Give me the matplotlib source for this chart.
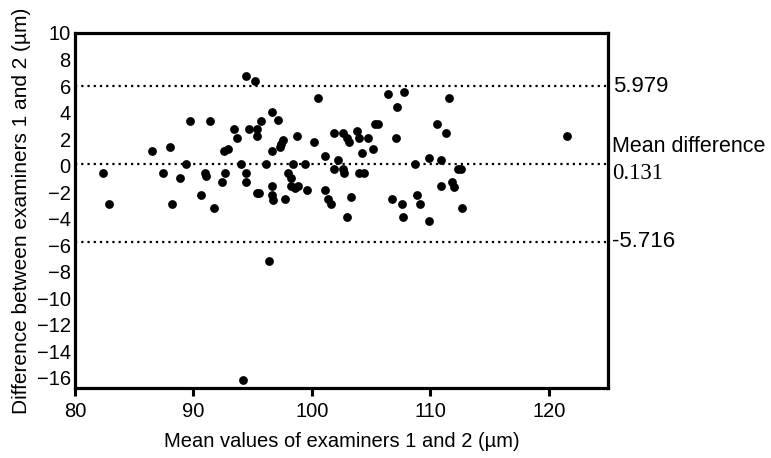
import matplotlib
matplotlib.use("Agg")
import matplotlib.pyplot as plt

plt.rcParams['font.family'] = ['Liberation Sans', 'DejaVu Sans']

# mean of the two examiners (x) and their difference (y)
mean_vals = [94.4, 95.2, 89.7, 91.4, 93.4, 94.7, 95.4, 95.7, 93.7, 95.4,
             86.5, 88.0, 92.6, 92.9, 89.4, 94.0, 82.4, 87.4, 88.9, 91.0,
             91.1, 92.7, 94.4, 92.4, 94.4, 90.6, 95.4, 82.9, 88.2, 91.7,
             100.5, 106.4, 107.8, 107.2, 96.6, 97.1, 98.7, 97.6, 97.4, 97.3,
             96.6, 100.2, 101.9, 102.6, 103.0, 103.1, 103.8, 104.0, 104.7, 105.3,
             105.6, 107.1, 105.2, 104.2, 101.1, 102.2, 96.1, 98.4, 99.4, 101.9,
             102.6, 102.7, 104.0, 104.4, 108.7, 98.0, 98.2, 98.2, 98.8, 98.6,
             99.6, 96.6, 95.5, 96.6, 96.7, 97.7, 101.1, 101.4, 101.6, 103.3,
             103.0, 106.8, 107.6, 107.7, 108.9, 109.1, 96.4, 111.6, 110.6, 111.3,
             121.5, 109.9, 110.9, 112.3, 112.6, 111.8, 112.0, 110.9, 109.9, 112.7,
             94.2]
diff_vals = [6.76, 6.38, 3.39, 3.39, 2.74, 2.74, 2.74, 3.39, 2.09, 2.24,
             1.11, 1.43, 1.11, 1.26, 0.11, 0.11, -0.57, -0.57, -0.90, -0.57,
             -0.75, -0.57, -0.57, -1.23, -1.23, -2.21, -2.03, -2.89, -2.89, -3.19,
             5.08, 5.40, 5.58, 4.42, 4.07, 3.42, 2.26, 1.94, 1.64, 1.43,
             1.11, 1.76, 2.44, 2.44, 2.11, 1.76, 2.61, 2.11, 2.11, 3.12,
             3.12, 2.09, 1.26, 0.93, 0.75, 0.43, 0.11, 0.11, 0.11, -0.25,
             -0.25, -0.57, -0.57, -0.57, 0.11, -0.57, -0.90, -1.53, -1.53, -1.70,
             -1.85, -1.53, -2.06, -2.21, -2.58, -2.53, -1.85, -2.53, -2.89, -2.38,
             -3.87, -2.53, -2.89, -3.87, -2.21, -2.89, -7.2, 5.08, 3.12, 2.44,
             2.26, 0.60, 0.43, -0.25, -0.25, -1.23, -1.58, -1.53, -4.19, -3.19,
             -16.15]

upper_loa = 5.979
mean_diff = 0.131
lower_loa = -5.716

x_ticks = [80, 90, 100, 110, 120]
y_ticks = list(range(-16, 11, 2))

fig = plt.figure(figsize=(7.71, 4.58), dpi=100)
ax = fig.add_axes([0.0973, 0.153, 0.6913, 0.775])

ax.scatter(mean_vals, diff_vals, s=40, color='black', zorder=3, linewidths=0)

for yv in (upper_loa, mean_diff, lower_loa):
    ax.axhline(yv, color='black', lw=1.6, linestyle=(0, (1, 1.8)), zorder=2)

ax.set_xlim(80, 125)
ax.set_ylim(-16.75, 10)
ax.set_xticks(x_ticks)
ax.set_yticks(y_ticks)
ax.tick_params(axis='x', length=6, width=2.2, labelsize=14.5, pad=4)
ax.tick_params(axis='y', length=0, labelsize=14.5, pad=3)
for sp in ax.spines.values():
    sp.set_linewidth(2.3)

ax.set_xlabel("Mean values of examiners 1 and 2 (\u00b5m)", fontsize=14.5, labelpad=8)
ax.set_ylabel("Difference between examiners 1 and 2 (\u00b5m)", fontsize=15, labelpad=4)

# labels to the right of the plot
tx = 1.01
trans = ax.get_yaxis_transform()
ax.text(tx, upper_loa, "5.979", transform=trans, fontsize=16,
        va='center', ha='left')
ax.text(tx - 0.003, 1.45, "Mean difference", transform=trans, fontsize=15.5,
        va='center', ha='left')
ax.text(tx - 0.003, -0.6, "0.131", transform=trans, fontsize=16.5,
        va='center', ha='left', family=['Liberation Serif', 'DejaVu Serif'])
ax.text(tx - 0.003, lower_loa, "-5.716", transform=trans, fontsize=16,
        va='center', ha='left')

fig.savefig("out.png", dpi=100)
